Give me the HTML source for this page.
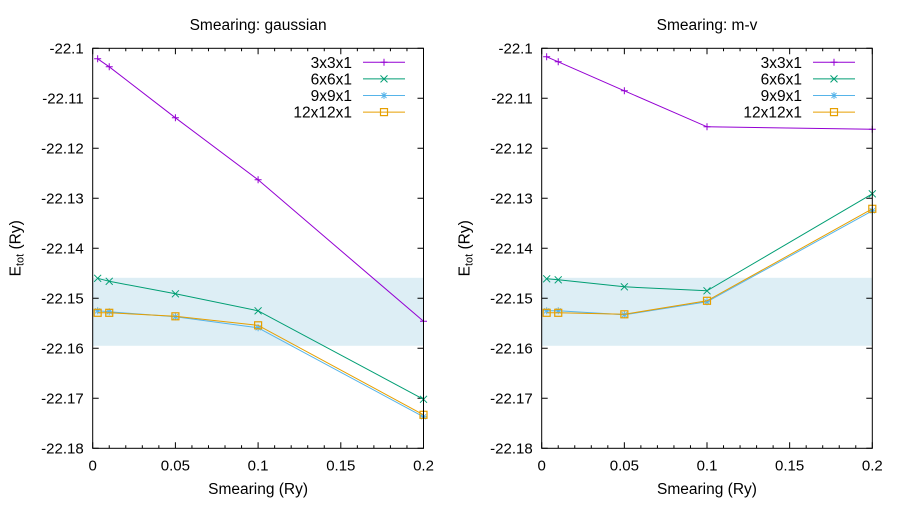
<!DOCTYPE html>
<html><head><meta charset="utf-8"><style>
body{margin:0;background:#fff;width:900px;height:500px;overflow:hidden}
svg{font-family:"Liberation Sans",sans-serif}
</style></head><body>
<svg id="chart" width="900" height="500" xmlns="http://www.w3.org/2000/svg"></svg>
<script>
const xs = [0.003, 0.01, 0.05, 0.1, 0.2];
const seriesNames = ["3x3x1", "6x6x1", "9x9x1", "12x12x1"];
const gaussian3 = [-22.1021, -22.1037, -22.1139, -22.1263, -22.1546];
const gaussian6 = [-22.1460, -22.1466, -22.1491, -22.1525, -22.1702];
const gaussian9 = [-22.1525, -22.1527, -22.1537, -22.1559, -22.1737];
const gaussian12 = [-22.1529, -22.1529, -22.1536, -22.1554, -22.1733];
const mv3 = [-22.1017, -22.1027, -22.1085, -22.1157, -22.1162];
const mv6 = [-22.1461, -22.1463, -22.1477, -22.1485, -22.1291];
const mv9 = [-22.1525, -22.1525, -22.1533, -22.1507, -22.1325];
const mv12 = [-22.1529, -22.1529, -22.1532, -22.1505, -22.1321];
const yTicks = [-22.1, -22.11, -22.12, -22.13, -22.14, -22.15, -22.16, -22.17, -22.18];
const yTickLabels = ["-22.1", "-22.11", "-22.12", "-22.13", "-22.14", "-22.15", "-22.16", "-22.17", "-22.18"];
const xTicks = [0, 0.05, 0.1, 0.15, 0.2];
const xTickLabels = ["0", "0.05", "0.1", "0.15", "0.2"];
const bandRange = [-22.1459, -22.1595];

const colors = ["#9400d3", "#009e73", "#56b4e9", "#e69f00"];
const NS = "http://www.w3.org/2000/svg";
const svg = document.getElementById("chart");
function mk(tag, attrs, parent) {
  const e = document.createElementNS(NS, tag);
  for (const k in attrs) e.setAttribute(k, attrs[k]);
  (parent || svg).appendChild(e);
  return e;
}
function marker(g, type, x, y, c) {
  const s = 3.5;
  if (type === 0) {
    mk("path", {d:`M${x-s} ${y}H${x+s}M${x} ${y-s}V${y+s}`, stroke:c, "stroke-width":1, fill:"none"}, g);
  } else if (type === 1) {
    mk("path", {d:`M${x-s} ${y-s}L${x+s} ${y+s}M${x-s} ${y+s}L${x+s} ${y-s}`, stroke:c, "stroke-width":1, fill:"none"}, g);
  } else if (type === 2) {
    mk("path", {d:`M${x-s} ${y}H${x+s}M${x} ${y-s}V${y+s}M${x-2.5} ${y-2.5}L${x+2.5} ${y+2.5}M${x-2.5} ${y+2.5}L${x+2.5} ${y-2.5}`, stroke:c, "stroke-width":1, fill:"none"}, g);
  } else {
    mk("rect", {x:x-3.5, y:y-3.5, width:7, height:7, stroke:c, "stroke-width":1.2, fill:"none"}, g);
  }
}
function panel(name, L, R, title, data, legendTextX) {
  const T = 48.3, B = 448.3;
  const xS = v => L + (v - 0) / 0.2 * (R - L);
  const yS = v => T + (-22.1 - v) / 0.08 * (B - T);
  const g = mk("g", {});
  
  
  const band = mk("rect", {x:L, y:yS(bandRange[0]), width:R-L, height:yS(bandRange[1])-yS(bandRange[0]), fill:"#ddeef5"}, g);
  
  
  yTicks.forEach((v, i) => {
    const y = yS(v);
    mk("path", {d:`M${L} ${y}h6M${R} ${y}h-6`, stroke:"#000", "stroke-width":1}, g);
    const t = mk("text", {x:L-9, y:y+5, "text-anchor":"end", "font-size":15, fill:"#000"}, g);
    t.textContent = yTickLabels[i];
    
    
  });
  for (let k = 0; k <= 20; k++) {
    const x = xS(k * 0.01);
    const len = (k % 5 === 0) ? 6 : 3;
    mk("path", {d:`M${x} ${B}v${-len}M${x} ${T}v${len}`, stroke:"#000", "stroke-width":1}, g);
  }
  xTicks.forEach((v, i) => {
    const t = mk("text", {x:xS(v), y:B+22, "text-anchor":"middle", "font-size":15, fill:"#000"}, g);
    t.textContent = xTickLabels[i];
    
    
  });
  data.forEach((ys, si) => {
    const sg = mk("g", {}, g);
    
    
    mk("polyline", {points: ys.map((v, i) => `${xS(xs[i])},${yS(v)}`).join(" "), fill:"none", stroke:colors[si], "stroke-width":1}, sg);
    ys.forEach((v, i) => marker(sg, si, xS(xs[i]), yS(v), colors[si]));
  });
  const fr = mk("rect", {x:L, y:T, width:R-L, height:B-T, fill:"none", stroke:"#000", "stroke-width":1}, g);
  
  
  const lg = mk("g", {}, g);
  
  
  seriesNames.forEach((n, si) => {
    const y = 62.3 + si * 16.6;
    const t = mk("text", {x:legendTextX, y:y+5.5, "text-anchor":"end", "font-size":15.5, fill:"#000"}, lg);
    t.textContent = n;
    
    
    mk("line", {x1:legendTextX+11, x2:legendTextX+53, y1:y, y2:y, stroke:colors[si], "stroke-width":1}, lg);
    marker(lg, si, legendTextX+32, y, colors[si]);
  });
  const tt = mk("text", {x:(L+R)/2, y:30, "text-anchor":"middle", "font-size":15.5, fill:"#000"}, g);
  tt.textContent = title;
  
  
  const xl = mk("text", {x:(L+R)/2, y:494, "text-anchor":"middle", "font-size":15.5, fill:"#000"}, g);
  xl.textContent = "Smearing (Ry)";
  
  
  const yl = mk("text", {transform:`translate(${L-72},${(T+B)/2}) rotate(-90)`, "text-anchor":"middle", "font-size":15.5, fill:"#000"}, g);
  yl.innerHTML = 'E<tspan font-size="11" dy="3">tot</tspan><tspan dy="-3"> (Ry)</tspan>';
  
  
}
panel("gaussian-panel", 92.7, 423.5, "Smearing: gaussian", [gaussian3, gaussian6, gaussian9, gaussian12], 352);
panel("mv-panel", 541.7, 872.3, "Smearing: m-v", [mv3, mv6, mv9, mv12], 802);
</script>
</body></html>
